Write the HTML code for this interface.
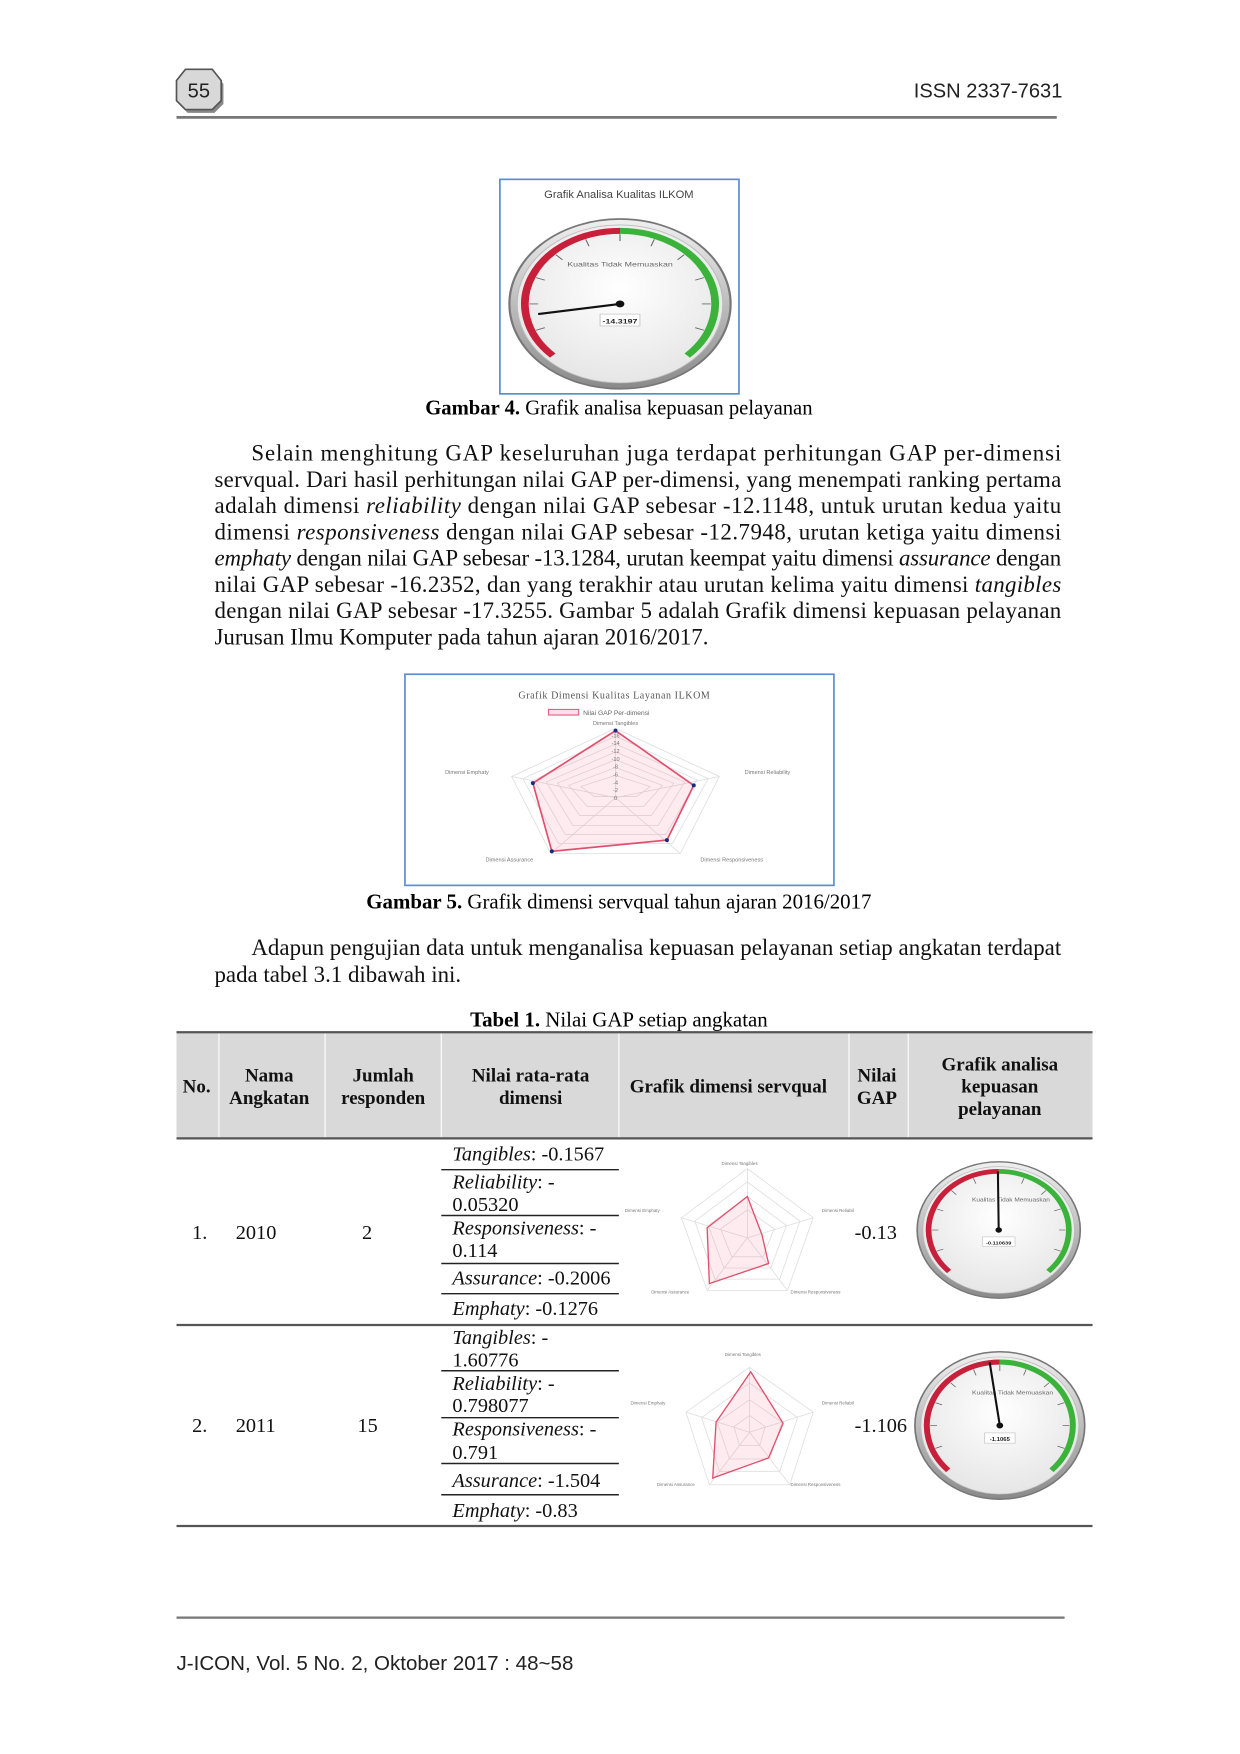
<!DOCTYPE html>
<html><head><meta charset="utf-8"><style>
html,body{margin:0;padding:0;background:#fff;}
svg{display:block;}
.s{font-family:"Liberation Serif",serif;}
.a{font-family:"Liberation Sans",sans-serif;}
</style></head><body>
<svg width="1240" height="1754" viewBox="0 0 1110 1570" xmlns="http://www.w3.org/2000/svg">
<defs>
<radialGradient id="face" cx="50%" cy="40%" r="60%"><stop offset="0" stop-color="#ffffff"/><stop offset="1" stop-color="#e6e6e6"/></radialGradient>
<linearGradient id="bez" x1="0" y1="0" x2="0" y2="1"><stop offset="0" stop-color="#f0f0f0"/><stop offset="1" stop-color="#8a8a8a"/></linearGradient>
<g id="gauge">
<circle r="100" fill="url(#bez)" stroke="#777" stroke-width="2"/>
<circle r="93" fill="url(#face)" stroke="#bbb" stroke-width="1"/>
<path d="M -60.8 60.8 A 86 86 0 0 1 0 -86" fill="none" stroke="#c8203a" stroke-width="7"/>
<path d="M 0 -86 A 86 86 0 0 1 60.8 60.8" fill="none" stroke="#3bb33b" stroke-width="7"/>
<g stroke="#666" stroke-width="1">
<line x1="0" y1="-82" x2="0" y2="-74"/><line x1="-58" y1="-58" x2="-52" y2="-52"/><line x1="58" y1="-58" x2="52" y2="-52"/>
<line x1="-82" y1="0" x2="-74" y2="0"/><line x1="82" y1="0" x2="74" y2="0"/>
<line x1="-31" y1="-76" x2="-28" y2="-68"/><line x1="31" y1="-76" x2="28" y2="-68"/>
<line x1="-76" y1="-31" x2="-68" y2="-28"/><line x1="76" y1="-31" x2="68" y2="-28"/>
<line x1="-76" y1="31" x2="-68" y2="28"/><line x1="76" y1="31" x2="68" y2="28"/>
</g>
</g>
</defs>

<g transform="translate(178,80)">
<polygon points="-12,-18 12,-18 20,-8 20,10 12,18 -12,18 -20,10 -20,-8" fill="#888" transform="translate(2,3)"/>
<polygon points="-12,-18 12,-18 20,-8 20,10 12,18 -12,18 -20,10 -20,-8" fill="#d8d8d8" stroke="#555" stroke-width="1.5"/>
<text x="0" y="7" text-anchor="middle" class="a" font-size="18" fill="#222">55</text>
</g>
<text x="951" y="87" text-anchor="end" class="a" font-size="18" fill="#222">ISSN 2337-7631</text>
<line x1="158" y1="105" x2="946" y2="105" stroke="#777" stroke-width="2.5"/>

<rect x="447.5" y="160.5" width="214" height="192" fill="#fff" stroke="#5b8bd0" stroke-width="1.5"/>
<text x="554" y="177" text-anchor="middle" class="a" font-size="10" fill="#444">Grafik Analisa Kualitas ILKOM</text>
<g transform="translate(555,272) scale(0.99,0.76)">
<use href="#gauge"/>
<text x="0" y="-44" text-anchor="middle" class="a" font-size="8" fill="#666">Kualitas Tidak Memuaskan</text>
<line x1="0" y1="0" x2="-74" y2="12" stroke="#111" stroke-width="2.5"/>
<circle r="4" fill="#111"/>
<rect x="-18" y="12" width="36" height="14" fill="#fff" stroke="#ccc"/>
<text x="0" y="23" text-anchor="middle" class="a" font-size="8" font-weight="bold" fill="#222">-14.3197</text>
</g>
<text x="554" y="371" text-anchor="middle" class="s" font-size="18.5"><tspan font-weight="bold">Gambar 4.</tspan> Grafik analisa kepuasan pelayanan</text>

<g class="s" font-size="20.5" fill="#111">
<text x="225" y="412" textLength="725" lengthAdjust="spacing">Selain menghitung GAP keseluruhan juga terdapat perhitungan GAP per-dimensi</text>
<text x="192" y="436" textLength="758" lengthAdjust="spacing">servqual. Dari hasil perhitungan nilai GAP per-dimensi, yang menempati ranking pertama</text>
<text x="192" y="459" textLength="758" lengthAdjust="spacing">adalah dimensi <tspan font-style="italic">reliability</tspan> dengan nilai GAP sebesar -12.1148, untuk urutan kedua yaitu</text>
<text x="192" y="483" textLength="758" lengthAdjust="spacing">dimensi <tspan font-style="italic">responsiveness</tspan> dengan nilai GAP sebesar -12.7948, urutan ketiga yaitu dimensi</text>
<text x="192" y="506" textLength="758" lengthAdjust="spacing"><tspan font-style="italic">emphaty</tspan> dengan nilai GAP sebesar -13.1284, urutan keempat yaitu dimensi <tspan font-style="italic">assurance</tspan> dengan</text>
<text x="192" y="530" textLength="758" lengthAdjust="spacing">nilai GAP sebesar -16.2352, dan yang terakhir atau urutan kelima yaitu dimensi <tspan font-style="italic">tangibles</tspan></text>
<text x="192" y="553" textLength="758" lengthAdjust="spacing">dengan nilai GAP sebesar -17.3255. Gambar 5 adalah Grafik dimensi kepuasan pelayanan</text>
<text x="192" y="577">Jurusan Ilmu Komputer pada tahun ajaran 2016/2017.</text>
</g>

<rect x="362.5" y="603.5" width="384" height="189" fill="#fff" stroke="#5b8bd0" stroke-width="1.5"/>
<text x="550" y="625" text-anchor="middle" class="s" font-size="9" fill="#555" letter-spacing="0.5">Grafik Dimensi Kualitas Layanan ILKOM</text>
<rect x="491" y="635" width="27" height="5" fill="#fde" stroke="#e06080"/>
<text x="522" y="640" class="a" font-size="6" fill="#666">Nilai GAP Per-dimensi</text>
<g fill="none" stroke="#ddd" stroke-width="0.7">
<polygon points="551,652 644,695 609,764 493,764 458,695"/>
<polygon points="551,659 634,697 602,755 500,755 468,697"/>
<polygon points="551,666 624,698 596,747 506,747 478,698"/>
<polygon points="551,673 613,700 589,739 513,739 489,700"/>
<polygon points="551,680 603,701 583,730 519,730 499,701"/>
<polygon points="551,687 593,703 576,722 526,722 509,703"/>
<polygon points="551,694 582,704 570,713 532,713 520,704"/>
<line x1="551" y1="714" x2="551" y2="652"/><line x1="551" y1="714" x2="644" y2="695"/><line x1="551" y1="714" x2="609" y2="764"/><line x1="551" y1="714" x2="493" y2="764"/><line x1="551" y1="714" x2="458" y2="695"/>
</g>
<polygon points="551,654 621,703 597,752 494,762 477,701" fill="rgba(240,120,150,0.15)" stroke="#e0506e" stroke-width="1.5"/>
<g fill="#1a2a80"><circle cx="551" cy="654" r="1.8"/><circle cx="621" cy="703" r="1.8"/><circle cx="597" cy="752" r="1.8"/><circle cx="494" cy="762" r="1.8"/><circle cx="477" cy="701" r="1.8"/></g>
<g class="a" font-size="5" fill="#777" text-anchor="middle">
<text x="551" y="649">Dimensi Tangibles</text>
<text x="687" y="693">Dimensi Reliability</text>
<text x="655" y="771">Dimensi Responsiveness</text>
<text x="456" y="771">Dimensi Assurance</text>
<text x="418" y="693">Dimensi Emphaty</text>
<text x="551" y="660">-16</text><text x="551" y="667">-14</text><text x="551" y="674">-12</text><text x="551" y="681">-10</text><text x="551" y="688">-8</text><text x="551" y="695">-6</text><text x="551" y="702">-4</text><text x="551" y="709">-2</text><text x="551" y="716">0</text>
</g>
<text x="554" y="813" text-anchor="middle" class="s" font-size="18.7"><tspan font-weight="bold">Gambar 5.</tspan> Grafik dimensi servqual tahun ajaran 2016/2017</text>

<g class="s" font-size="20.5" fill="#111">
<text x="225" y="855" textLength="725" lengthAdjust="spacing">Adapun pengujian data untuk menganalisa kepuasan pelayanan setiap angkatan terdapat</text>
<text x="192" y="879">pada tabel 3.1 dibawah ini.</text>
</g>

<text x="554" y="919" text-anchor="middle" class="s" font-size="18.7"><tspan font-weight="bold">Tabel 1.</tspan> Nilai GAP setiap angkatan</text>
<rect x="158" y="925" width="820" height="94" fill="#d9d9d9"/>
<g stroke="#fff" stroke-width="1">
<line x1="196" y1="925" x2="196" y2="1019"/><line x1="291" y1="925" x2="291" y2="1019"/><line x1="395" y1="925" x2="395" y2="1019"/><line x1="554" y1="925" x2="554" y2="1019"/><line x1="760" y1="925" x2="760" y2="1019"/><line x1="813" y1="925" x2="813" y2="1019"/>
</g>
<line x1="158" y1="924" x2="978" y2="924" stroke="#555" stroke-width="2"/>
<line x1="158" y1="1019" x2="978" y2="1019" stroke="#555" stroke-width="2"/>
<line x1="158" y1="1186" x2="978" y2="1186" stroke="#555" stroke-width="2"/>
<line x1="158" y1="1366" x2="978" y2="1366" stroke="#555" stroke-width="2"/>
<g class="s" font-size="17" font-weight="bold" text-anchor="middle" fill="#111">
<text x="176" y="978">No.</text>
<text x="241" y="968">Nama</text><text x="241" y="988">Angkatan</text>
<text x="343" y="968">Jumlah</text><text x="343" y="988">responden</text>
<text x="475" y="968">Nilai rata-rata</text><text x="475" y="988">dimensi</text>
<text x="652" y="978">Grafik dimensi servqual</text>
<text x="785" y="968">Nilai</text><text x="785" y="988">GAP</text>
<text x="895" y="958">Grafik analisa</text><text x="895" y="978">kepuasan</text><text x="895" y="998">pelayanan</text>
</g>
<g stroke="#222" stroke-width="1.3">
<line x1="395" y1="1047" x2="554" y2="1047"/><line x1="395" y1="1088" x2="554" y2="1088"/><line x1="395" y1="1131" x2="554" y2="1131"/><line x1="395" y1="1158" x2="554" y2="1158"/>
<line x1="395" y1="1227" x2="554" y2="1227"/><line x1="395" y1="1269" x2="554" y2="1269"/><line x1="395" y1="1310" x2="554" y2="1310"/><line x1="395" y1="1338" x2="554" y2="1338"/>
</g>
<g class="s" font-size="18.2" fill="#111">
<text x="172" y="1109">1.</text><text x="211" y="1109">2010</text><text x="324" y="1109">2</text><text x="765" y="1109">-0.13</text>
<text x="172" y="1282">2.</text><text x="211" y="1282">2011</text><text x="320" y="1282">15</text><text x="765" y="1282">-1.106</text>
<text x="405" y="1039"><tspan font-style="italic">Tangibles</tspan>: -0.1567</text>
<text x="405" y="1064"><tspan font-style="italic">Reliability</tspan>: -</text><text x="405" y="1084">0.05320</text>
<text x="405" y="1105"><tspan font-style="italic">Responsiveness</tspan>: -</text><text x="405" y="1125">0.114</text>
<text x="405" y="1150"><tspan font-style="italic">Assurance</tspan>: -0.2006</text>
<text x="405" y="1177"><tspan font-style="italic">Emphaty</tspan>: -0.1276</text>
<text x="405" y="1203"><tspan font-style="italic">Tangibles</tspan>: -</text><text x="405" y="1223">1.60776</text>
<text x="405" y="1244"><tspan font-style="italic">Reliability</tspan>: -</text><text x="405" y="1264">0.798077</text>
<text x="405" y="1285"><tspan font-style="italic">Responsiveness</tspan>: -</text><text x="405" y="1306">0.791</text>
<text x="405" y="1331"><tspan font-style="italic">Assurance</tspan>: -1.504</text>
<text x="405" y="1358"><tspan font-style="italic">Emphaty</tspan>: -0.83</text>
</g>

<g fill="none" stroke="#ddd" stroke-width="0.7">
<polygon points="669,1046 728,1090 705,1155 633,1155 610,1090"/>
<polygon points="669,1058 716,1093 698,1145 640,1145 622,1093"/>
<polygon points="669,1071 704,1097 690,1135 648,1135 634,1097"/>
<polygon points="669,1083 693,1100 683,1125 655,1125 645,1100"/>
<line x1="669" y1="1108" x2="669" y2="1046"/><line x1="669" y1="1108" x2="728" y2="1090"/><line x1="669" y1="1108" x2="705" y2="1155"/><line x1="669" y1="1108" x2="633" y2="1155"/><line x1="669" y1="1108" x2="610" y2="1090"/>
</g>
<polygon points="669,1071 682,1105 688,1131 635,1149 633,1099" fill="rgba(240,120,150,0.15)" stroke="#e0506e" stroke-width="1.2"/>
<g class="a" font-size="4" fill="#777" text-anchor="middle">
<text x="662" y="1043">Dimensi Tangibles</text><text x="575" y="1085">Dimensi Emphaty</text><text x="750" y="1085">Dimensi Reliabil</text><text x="600" y="1158">Dimensi Assurance</text><text x="730" y="1158">Dimensi Responsiveness</text>
</g>
<g fill="none" stroke="#ddd" stroke-width="0.7">
<polygon points="671,1224 728,1264 707,1329 635,1329 614,1264"/>
<polygon points="671,1238 714,1269 698,1317 644,1317 628,1269"/>
<polygon points="671,1253 700,1273 689,1306 653,1306 642,1273"/>
<polygon points="671,1267 685,1277 680,1294 662,1294 657,1277"/>
<line x1="671" y1="1282" x2="671" y2="1224"/><line x1="671" y1="1282" x2="728" y2="1264"/><line x1="671" y1="1282" x2="707" y2="1329"/><line x1="671" y1="1282" x2="635" y2="1329"/><line x1="671" y1="1282" x2="614" y2="1264"/>
</g>
<polygon points="672,1228 701,1274 688,1305 638,1323 641,1273" fill="rgba(240,120,150,0.15)" stroke="#e0506e" stroke-width="1.2"/>
<g class="a" font-size="4" fill="#777" text-anchor="middle">
<text x="665" y="1214">Dimensi Tangibles</text><text x="580" y="1257">Dimensi Emphaty</text><text x="750" y="1257">Dimensi Reliabil</text><text x="605" y="1330">Dimensi Assurance</text><text x="730" y="1330">Dimensi Responsiveness</text>
</g>

<g transform="translate(894,1101) scale(0.73,0.61)">
<use href="#gauge"/>
<text x="15" y="-42" text-anchor="middle" class="a" font-size="8" fill="#666">Kualitas Tidak Memuaskan</text>
<line x1="0" y1="0" x2="-1" y2="-86" stroke="#111" stroke-width="2.5"/><circle r="4" fill="#111"/>
<rect x="-20" y="10" width="40" height="14" fill="#fff" stroke="#ccc"/>
<text x="0" y="21" text-anchor="middle" class="a" font-size="7" font-weight="bold" fill="#222">-0.110639</text>
</g>
<g transform="translate(895,1276) scale(0.76,0.66)">
<use href="#gauge"/>
<text x="15" y="-42" text-anchor="middle" class="a" font-size="8" fill="#666">Kualitas Tidak Memuaskan</text>
<line x1="0" y1="0" x2="-12" y2="-86" stroke="#111" stroke-width="2.5"/><circle r="4" fill="#111"/>
<rect x="-18" y="10" width="36" height="14" fill="#fff" stroke="#ccc"/>
<text x="0" y="21" text-anchor="middle" class="a" font-size="7" font-weight="bold" fill="#222">-1.1065</text>
</g>

<line x1="158" y1="1448" x2="953" y2="1448" stroke="#777" stroke-width="2"/>
<text x="158" y="1495" class="a" font-size="18.4" fill="#222">J-ICON, Vol. 5 No. 2, Oktober 2017 : 48~58</text>
</svg>
</body></html>
